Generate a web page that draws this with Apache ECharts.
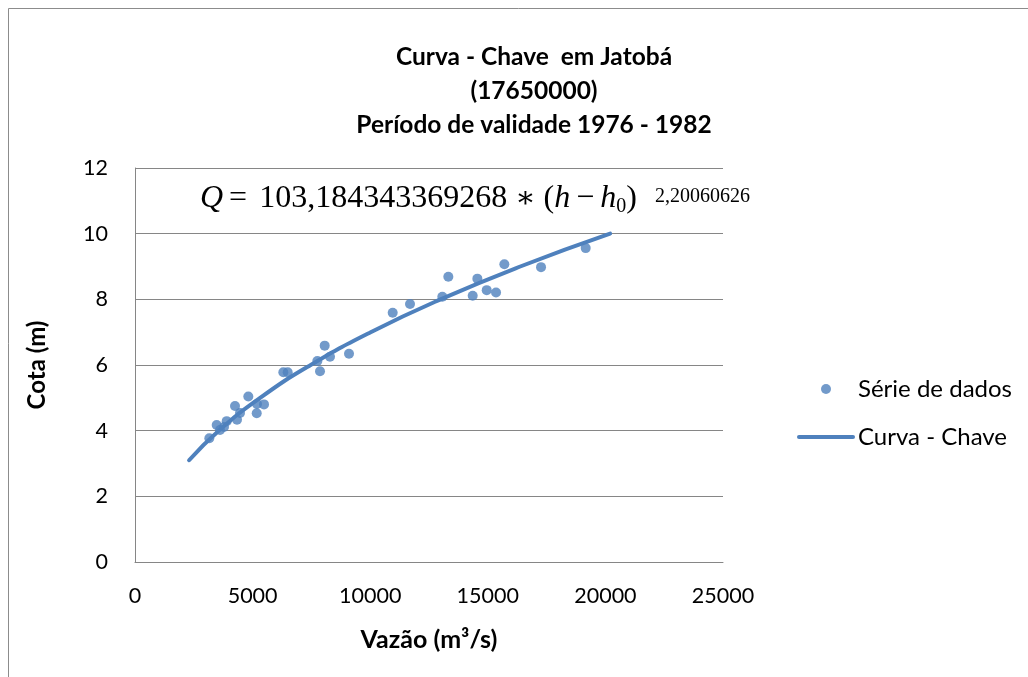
<!DOCTYPE html>
<html>
<head>
<meta charset="utf-8">
<script src="https://cdn.jsdelivr.net/npm/echarts@6/dist/echarts.min.js"></script>
<style>
html,body{margin:0;padding:0;background:#fff;}
#chart{width:1028px;height:677px;}
</style>
</head>
<body>
<div id="chart"></div>
<script>
// Observed data points (Vazão m³/s, Cota m)
const vazao = [3160, 3473, 3614, 3784, 3899, 4252, 4337, 4465, 4818, 5187, 5175, 5485,
  6306, 6492, 7753, 7866, 8065, 8291, 9099, 10956, 11693, 13067, 13322, 14358, 14556,
  14954, 15350, 15704, 17263, 19163];
const cota = [3.77, 4.17, 4.02, 4.11, 4.29, 4.75, 4.33, 4.54, 5.04, 4.81, 4.53, 4.80,
  5.78, 5.78, 6.12, 5.81, 6.59, 6.25, 6.34, 7.59, 7.86, 8.08, 8.69, 8.11, 8.63,
  8.28, 8.21, 9.07, 8.98, 9.56];
// Points
const curvaVazao = [2300, 3560, 5320, 7470, 10020, 12990, 16380, 20200];
const curvaCota = [3.1, 4.0, 5.0, 6.0, 7.0, 8.0, 9.0, 10.0];
const xTicks = {min: 0, max: 25000, step: 5000};
const yTicks = {min: 0, max: 12, step: 2};
const titleLines = ['Curva - Chave  em Jatobá', '(17650000)', 'Período de validade 1976 - 1982'];
const seriesNames = ['Série de dados', 'Curva - Chave'];
const axisNames = ['Vazão (m³/s)', 'Cota (m)'];

const blue = '#4F81BD';
const font = 'Lato, "Open Sans", sans-serif';
const serif = '"Liberation Serif", "DejaVu Serif", serif';
const chart = echarts.init(document.getElementById('chart'));
chart.setOption({
  backgroundColor: '#fff',
  animation: false,
  grid: {left: 135, right: 305, top: 168, bottom: 115},
  xAxis: {
    type: 'value', min: xTicks.min, max: xTicks.max, interval: xTicks.step,
    name: axisNames[0], nameLocation: 'middle', nameGap: 65,
    nameTextStyle: {fontFamily: font, fontWeight: 'bold', fontSize: 25, color: '#000'},
    axisLine: {show: true, lineStyle: {color: '#868686', width: 1}},
    axisTick: {show: false},
    splitLine: {show: false},
    axisLabel: {fontFamily: font, fontSize: 21.5, color: '#000', margin: 23,
      formatter: v => String(v)}
  },
  yAxis: {
    type: 'value', min: yTicks.min, max: yTicks.max, interval: yTicks.step,
    name: axisNames[1], nameLocation: 'middle', nameGap: 86, nameRotate: 90,
    nameTextStyle: {fontFamily: font, fontWeight: 'bold', fontSize: 24, color: '#000'},
    axisLine: {show: true, lineStyle: {color: '#868686', width: 1}},
    axisTick: {show: false},
    splitLine: {show: true, lineStyle: {color: '#868686', width: 1}},
    axisLabel: {fontFamily: font, fontSize: 21.5, color: '#000', margin: 27,
      formatter: v => String(v)}
  },
  legend: {
    orient: 'vertical', left: 797, top: 377, padding: 0,
    itemWidth: 54, itemHeight: 10, itemGap: 24,
    textStyle: {fontFamily: font, fontSize: 24, color: '#000'},
    data: [
      {name: seriesNames[0], icon: 'circle'},
      {name: seriesNames[1], itemStyle: {opacity: 0}, lineStyle: {width: 4, color: blue}}
    ]
  },
  graphic: [
    {type: 'rect', silent: true, z: -10, shape: {x: 8.5, y: 8.5, width: 1100, height: 800},
      style: {fill: 'none', stroke: '#8c8c8c', lineWidth: 1}},
    {type: 'text', x: 534, y: 40, z: 10,
      style: {text: titleLines.join('\n'), align: 'center', verticalAlign: 'top',
        font: 'bold 24.5px ' + font, lineHeight: 34, fill: '#000'}},
    {type: 'text', x: 200, y: 199, z: 10,
      style: {
        text: '{i|Q}{op|=}103,184343369268{op2|∗}({i|h}{op3|−}{i|h}{sub|0}){sup|2,20060626}',
        font: '32px ' + serif, fill: '#000', verticalAlign: 'middle',
        lineHeight: 40,
        rich: {
          i: {fontStyle: 'italic', fontSize: 32, fontFamily: serif, lineHeight: 40},
          op: {fontSize: 32, fontFamily: serif, lineHeight: 40, padding: [0, 12, 0, 6]},
          op2: {fontSize: 30, fontFamily: serif, lineHeight: 40, padding: [0, 8, 0, 8]},
          op3: {fontSize: 32, fontFamily: serif, lineHeight: 40, padding: [0, 6, 0, 6]},
          sub: {fontSize: 20, fontFamily: serif, verticalAlign: 'middle', lineHeight: 20, padding: [16, 0, 0, 0]},
          sup: {fontSize: 20, fontFamily: serif, verticalAlign: 'middle', lineHeight: 20, padding: [0, 0, 4, 18]}
        }
      }}
  ],
  series: [
    {
      name: seriesNames[0], type: 'scatter', symbol: 'circle', symbolSize: 10,
      itemStyle: {color: blue},
      data: vazao.map((v, i) => [v, cota[i]]), z: 3
    },
    {
      name: seriesNames[1], type: 'line', smooth: true, symbol: 'none', showSymbol: false,
      lineStyle: {color: blue, width: 4, cap: 'round'}, itemStyle: {color: blue},
      data: curvaVazao.map((v, i) => [v, curvaCota[i]]), z: 2
    }
  ]
});
</script>
</body>
</html>
